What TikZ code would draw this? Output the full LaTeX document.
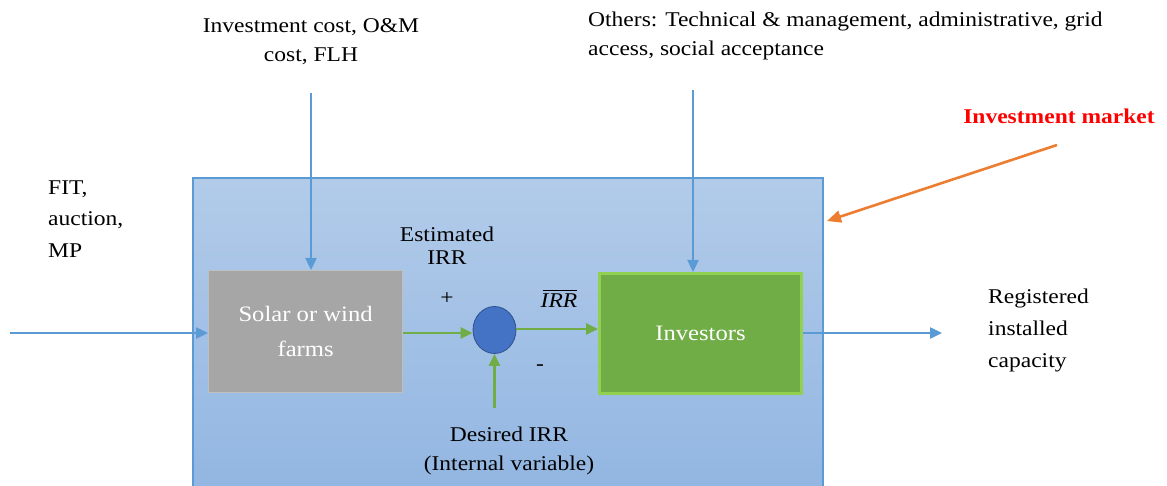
\documentclass[tikz,border=0pt]{standalone}
\usepackage{fontspec}
\setmainfont{Liberation Serif}[FakeStretch=1.12]
\usetikzlibrary{arrows.meta,shapes.geometric}

\definecolor{lineblue}{RGB}{91,155,213}
\definecolor{linegreen}{RGB}{112,173,71}
\definecolor{farmgray}{RGB}{166,166,166}
\definecolor{farmedge}{RGB}{191,191,191}
\definecolor{invgreen}{RGB}{112,173,71}
\definecolor{invedge}{RGB}{146,208,80}
\definecolor{sumblue}{RGB}{68,114,196}
\definecolor{sumedge}{RGB}{47,82,143}
\definecolor{mktorange}{RGB}{237,125,49}
\definecolor{mktred}{RGB}{255,0,0}
\definecolor{boxtop}{RGB}{178,203,233}
\definecolor{boxbottom}{RGB}{146,182,226}

\tikzset{
  txt/.style={font=\fontsize{21}{29}\selectfont, inner sep=0pt},
  barrow/.style={draw=lineblue, line width=2.4pt, -{Triangle[length=12pt,width=11pt]}},
  garrow/.style={draw=linegreen, line width=2.6pt, -{Triangle[length=12pt,width=11pt]}},
  oarrow/.style={draw=mktorange, line width=2.6pt, -{Triangle[length=14pt,width=12pt]}},
  blockbox/.style={minimum width=#1, inner sep=0pt, anchor=north west, align=center}
}

\begin{document}
\begin{tikzpicture}[x=1pt,y=-1pt]
\useasboundingbox (0,0) rectangle (1167,486);
\fill[white] (0,0) rectangle (1167,486);

% market enclosure
\node (market) [draw=lineblue, line width=1.6pt, top color=boxtop, bottom color=boxbottom,
  minimum width=630pt, minimum height=314pt, inner sep=0pt, anchor=north west] at (192,177) {};

% blocks
\node (farms) [blockbox=194pt, minimum height=122pt, fill=farmgray, draw=farmedge, line width=1.2pt,
  text=white, font=\fontsize{22}{35}\selectfont] at (208,270) {Solar or wind\\farms};
\node (investors) [blockbox=202pt, minimum height=120pt, fill=invgreen, draw=invedge, line width=3pt,
  text=white, font=\fontsize{22}{24}\selectfont] at (598,272) {Investors};
\node (sum) [ellipse, fill=sumblue, draw=sumedge, line width=0.8pt, minimum width=43pt,
  minimum height=47pt, inner sep=0pt] at (494.5,330) {};

% labels
\node (costtxt) [txt, align=center] at (311,42) {Investment cost, O\&M\\cost, FLH};
\node (otherstxt) [txt, align=left, anchor=west] at (588,36) {Others: Technical \& management, administrative, grid\\access, social acceptance};
\node (fittxt) [txt, align=left, anchor=west, font=\fontsize{21}{31.5}\selectfont] at (48,219) {FIT,\\auction,\\MP};
\node (esttxt) [txt, align=center, font=\fontsize{21}{23}\selectfont] at (447,246) {Estimated\\IRR};
\node (plus) [txt] at (447,299) {+};
\node (irrbar) [txt, font=\fontsize{21}{23}\itshape\selectfont] at (559,301) {IRR};
\node (minus) [txt] at (540,368) {-};
\node (destxt) [txt, align=center] at (509,451) {Desired IRR\\(Internal variable)};
\node (captxt) [txt, align=left, anchor=west, font=\fontsize{21}{32}\selectfont] at (988,330) {Registered\\installed\\capacity};
\node (mkttxt) [txt, text=mktred, font=\fontsize{21}{23}\bfseries\selectfont] at (1059,116) {Investment market};

% bar over the averaged IRR
\draw[line width=1pt] ([yshift=3pt,xshift=2pt]irrbar.north west) -- ([yshift=3pt]irrbar.north east);

% free ends of connectors
\coordinate (fitin) at (10,333);
\coordinate (costin) at (311,93);
\coordinate (othersin) at (693,90);
\coordinate (desiredin) at (494.5,408);
\coordinate (capout) at (942,333);
\coordinate (mktstart) at (1057,145);
\coordinate (mkttip) at (827,221);

% connectors
\draw[barrow] (fitin) -- (fitin -| farms.west);
\draw[barrow] (costin) -- (costin |- farms.north);
\draw[barrow] (othersin) -- (othersin |- investors.north);
\draw[barrow] (capout -| investors.east) -- (capout);
\draw[garrow] (farms.east |- 0,333) -- (sum.west |- 0,333);
\draw[garrow] (sum.east |- 0,329) -- (investors.west |- 0,329);
\draw[garrow] (desiredin) -- (sum.south);
\draw[oarrow] (mktstart) -- (mkttip);
\end{tikzpicture}
\end{document}
